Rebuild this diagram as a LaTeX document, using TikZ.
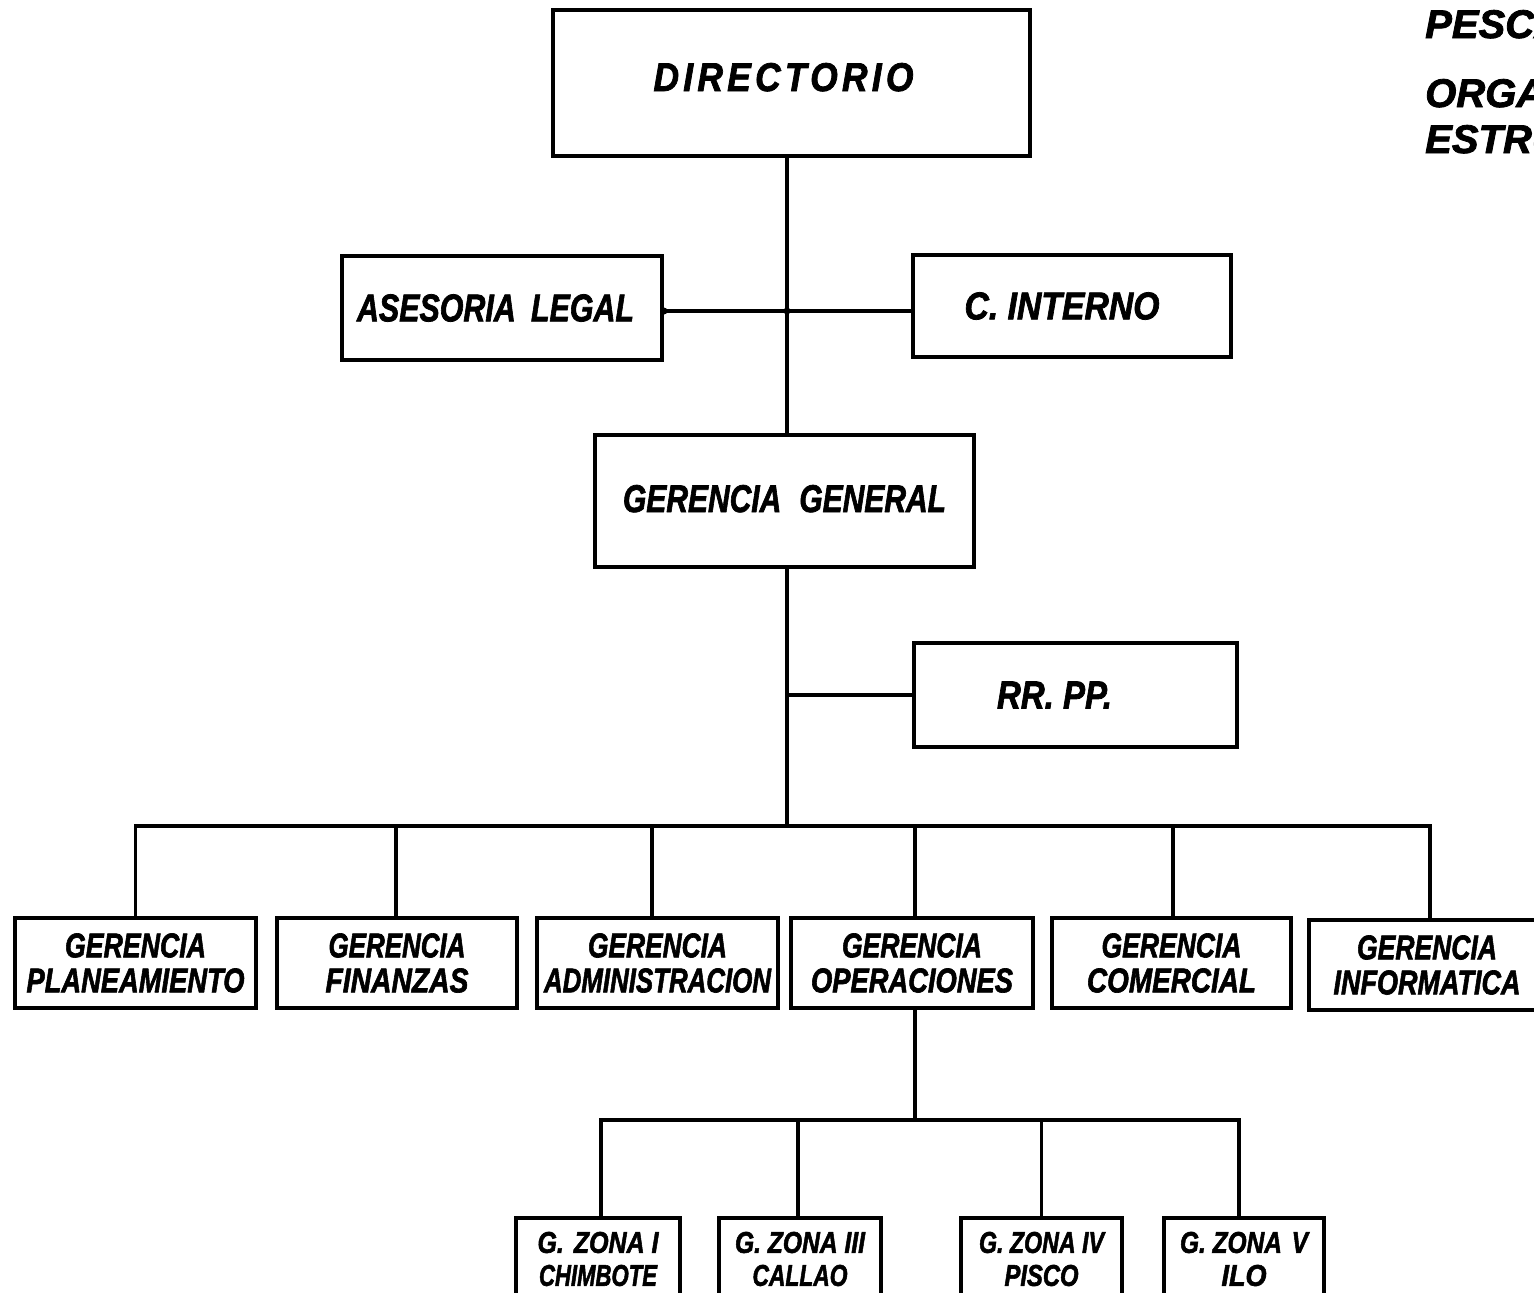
\documentclass[tikz,border=0pt]{standalone}
\usepackage{fontspec}
\setmainfont{Liberation Sans}[BoldItalicFeatures={FakeBold=2}]
\usepackage{graphicx}
\newcommand{\fit}[3]{\resizebox{#1pt}{#2pt}{#3}}
\begin{document}
\begin{tikzpicture}[x=1pt,y=-1pt,
  box/.style={draw, line width=4pt, inner sep=0pt,
    font=\bfseries\itshape\fontsize{30}{35}\selectfont},
  gbox/.style={box, minimum height=90pt, align=center},
  zbox/.style={box, minimum height=82pt, align=center,
    font=\bfseries\itshape\fontsize{26}{33}\selectfont},
  link/.style={line width=3.5pt, line join=miter},
  title/.style={anchor=base west, inner sep=0pt,
    font=\bfseries\itshape\fontsize{40}{40}\selectfont}]
\useasboundingbox (0,0) rectangle (1534,1293);
\clip (0,0) rectangle (1534,1293);

% top boxes
\node[box, minimum width=477pt, minimum height=146pt] (dir) at (791.5,83)
  {\raisebox{12pt}{\fit{260}{28}{\addfontfeature{LetterSpace=12}DIRECTORIO}}\kern16pt};
\node[box, minimum width=320pt, minimum height=104pt] (ase) at (502,308)
  {\fit{277}{27}{ASESORIA\hspace{0.5em}LEGAL}\kern13pt};
\node[box, minimum width=318pt, minimum height=102pt] (cin) at (1072,306)
  {\fit{195}{27}{C. INTERNO}\kern20pt};
\node[box, minimum width=379pt, minimum height=132pt] (gg) at (784.5,501)
  {\raisebox{5pt}{\fit{323}{27}{GERENCIA\hspace{0.6em}GENERAL}}};
\node[box, minimum width=323pt, minimum height=104pt] (rr) at (1075.5,695)
  {\fit{115}{27}{RR. PP.}\kern42pt};

% gerencias
\node[gbox, minimum width=241pt] (pla) at (135.5,963)
  {\fit{141}{24}{GERENCIA}\\\fit{218}{24}{PLANEAMIENTO}};
\node[gbox, minimum width=240pt] (fin) at (397,963)
  {\fit{137}{24}{GERENCIA}\\\fit{143}{24}{FINANZAS}};
\node[gbox, minimum width=241pt] (adm) at (657.5,963)
  {\fit{139}{24}{GERENCIA}\\\fit{227}{24}{ADMINISTRACION}};
\node[gbox, minimum width=242pt] (ope) at (912,963)
  {\fit{140}{24}{GERENCIA}\\\fit{202}{24}{OPERACIONES}};
\node[gbox, minimum width=239pt] (com) at (1171.5,963)
  {\fit{140}{24}{GERENCIA}\\\fit{169}{24}{COMERCIAL}};
\node[gbox, minimum width=236pt] (inf) at (1427,965)
  {\fit{140}{24}{GERENCIA}\\\fit{187}{24}{INFORMATICA}};

% zonas
\node[zbox, minimum width=164pt] (z1) at (598,1259)
  {\fit{121}{21}{G.\hspace{0.4em}ZONA I}\\\fit{118}{21}{CHIMBOTE}};
\node[zbox, minimum width=162pt] (z3) at (800,1259)
  {\fit{130}{21}{G. ZONA III}\\\fit{95}{21}{CALLAO}};
\node[zbox, minimum width=161pt] (z4) at (1041.5,1259)
  {\fit{125}{21}{G. ZONA IV}\\\fit{74}{21}{PISCO}};
\node[zbox, minimum width=160pt] (z5) at (1244,1259)
  {\fit{128}{21}{G. ZONA\hspace{0.4em}V}\\\fit{45}{21}{ILO}};

% title (cut off at the right edge, as in the reference)
\node[title] (t1) at (1425,38) {PESCA PERU};
\node[title] (t2) at (1425,107) {ORGANIGRAMA};
\node[title] (t3) at (1425,153) {ESTRUCTURAL};

% connectors
\coordinate (tx) at (787,0);
\coordinate (sy) at (0,311);
\coordinate (b1) at (0,826);
\coordinate (b2) at (0,1120);

\draw[link] (tx |- dir.south) -- (tx |- gg.north);
\draw[link] (ase.east |- sy) -- (cin.west |- sy);
\fill (ase.east |- sy) circle (3.5pt);
\fill (tx |- sy) circle (3.5pt);
\draw[link] (tx |- gg.south) -- (tx |- b1);
\draw[link] (tx |- rr.west) -- (rr.west);
\draw[link] (pla.north) -- (pla.north |- b1) -- ([xshift=3pt]inf.north |- b1) -- ([xshift=3pt]inf.north);
\draw[link] ([xshift=-1pt]fin.north) -- ([xshift=-1pt]fin.north |- b1);
\draw[link] ([xshift=-5.5pt]adm.north) -- ([xshift=-5.5pt]adm.north |- b1);
\draw[link] ([xshift=3pt]ope.north) -- ([xshift=3pt]ope.north |- b1);
\draw[link] ([xshift=1.5pt]com.north) -- ([xshift=1.5pt]com.north |- b1);
\draw[link] ([xshift=3pt]ope.south) -- ([xshift=3pt]ope.south |- b2);
\draw[link] ([xshift=3pt]z1.north) -- ([xshift=3pt]z1.north |- b2) -- ([xshift=-5pt]z5.north |- b2) -- ([xshift=-5pt]z5.north);
\draw[link] ([xshift=-2pt]z3.north) -- ([xshift=-2pt]z3.north |- b2);
\draw[link] (z4.north) -- (z4.north |- b2);
\end{tikzpicture}
\end{document}
